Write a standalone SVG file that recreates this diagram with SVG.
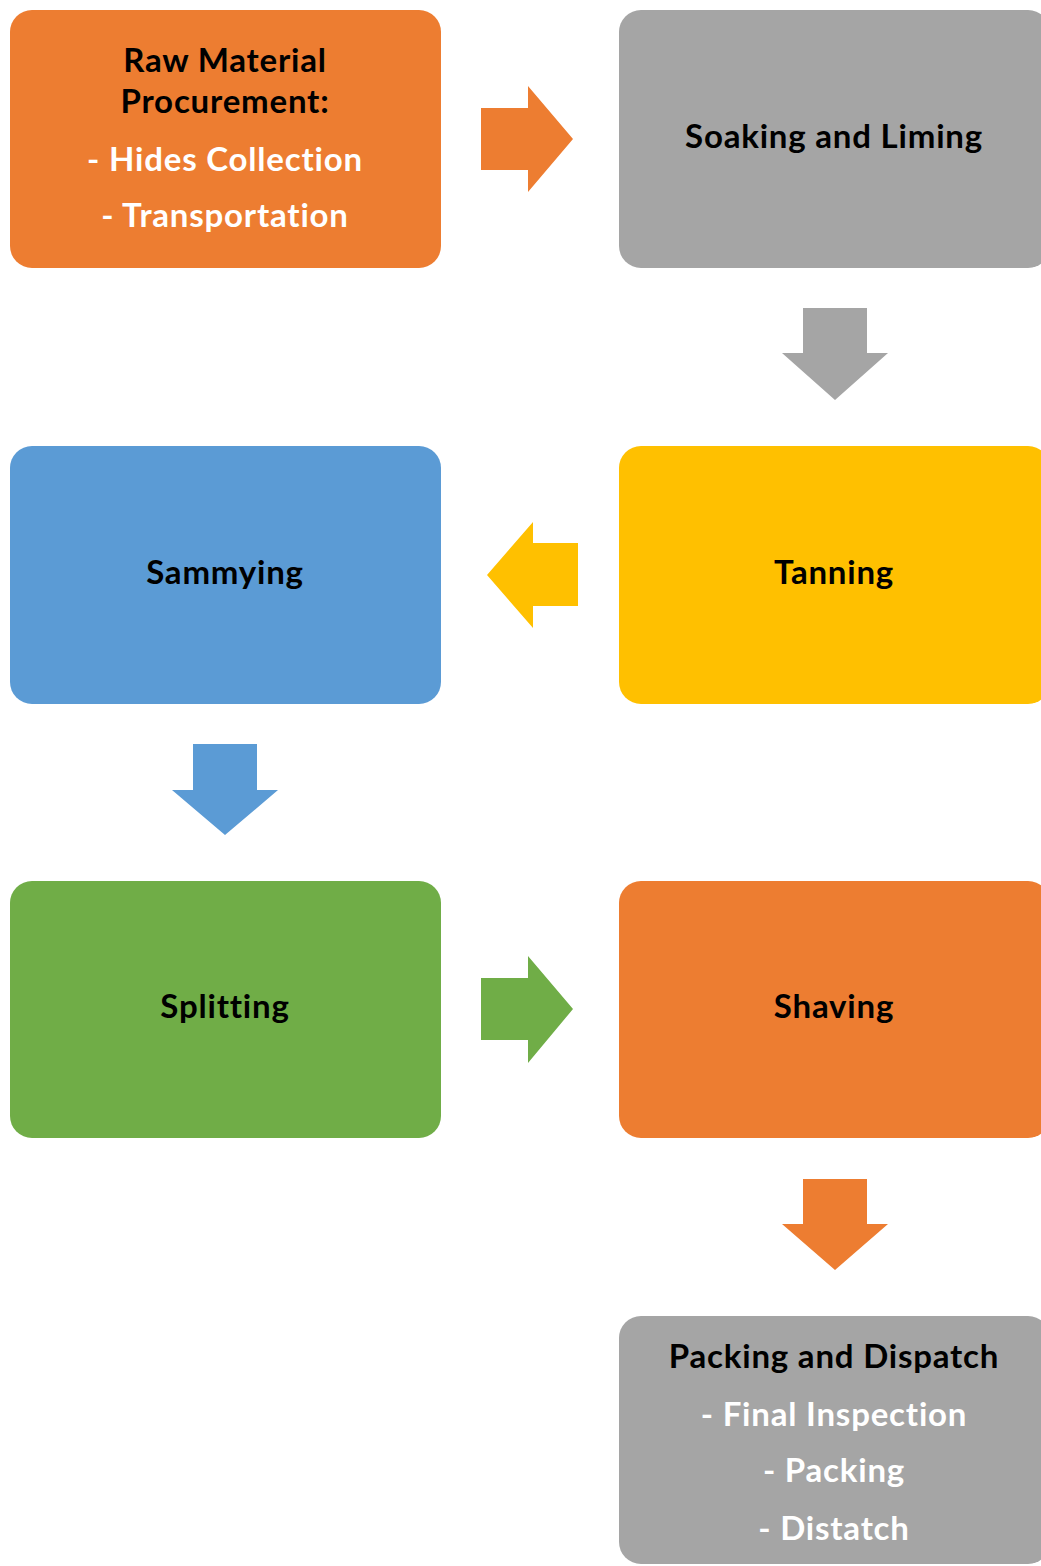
<svg xmlns="http://www.w3.org/2000/svg" width="1041" height="1566" viewBox="0 0 1041 1566">
<style>
  .t { font-family: Lato, "Open Sans", "Liberation Sans", sans-serif; font-weight: bold; font-size: 33px; letter-spacing: 0.8px; text-anchor: middle; }
  .k { fill: #000000; }
  .w { fill: #FFFFFF; }
  .orange { fill: #ED7D31; }
  .grey { fill: #A5A5A5; }
  .blue { fill: #5B9BD5; }
  .yellow { fill: #FFC000; }
  .green { fill: #70AD47; }
</style>
<rect width="1041" height="1566" fill="#FFFFFF"/>
<g id="node-raw">
  <rect class="orange" x="10" y="10" width="431" height="258" rx="22"/>
  <text class="t k" x="225" y="72">Raw Material</text>
  <text class="t k" x="225" y="113">Procurement:</text>
  <text class="t w" x="225" y="171">- Hides Collection</text>
  <text class="t w" x="225" y="227">- Transportation</text>
</g>
<g id="node-soaking">
  <rect class="grey" x="619" y="10" width="431" height="258" rx="22"/>
  <text class="t k" x="834" y="148">Soaking and Liming</text>
</g>
<g id="node-tanning">
  <rect class="yellow" x="619" y="446" width="431" height="258" rx="22"/>
  <text class="t k" x="834" y="584">Tanning</text>
</g>
<g id="node-sammying">
  <rect class="blue" x="10" y="446" width="431" height="258" rx="22"/>
  <text class="t k" x="225" y="584">Sammying</text>
</g>
<g id="node-splitting">
  <rect class="green" x="10" y="881" width="431" height="257" rx="22"/>
  <text class="t k" x="225" y="1018">Splitting</text>
</g>
<g id="node-shaving">
  <rect class="orange" x="619" y="881" width="431" height="257" rx="22"/>
  <text class="t k" x="834" y="1018">Shaving</text>
</g>
<g id="node-packing">
  <rect class="grey" x="619" y="1316" width="431" height="248" rx="22"/>
  <text class="t k" x="834" y="1368">Packing and Dispatch</text>
  <text class="t w" x="834" y="1426">- Final Inspection</text>
  <text class="t w" x="834" y="1482">- Packing</text>
  <text class="t w" x="834" y="1540">- Distatch</text>
</g>
<g id="connectors">
  <polygon class="orange" points="481,108 528,108 528,86 573,139 528,192 528,170 481,170"/>
  <polygon class="grey" points="803,308 867,308 867,353 888,353 835,400 782,353 803,353"/>
  <polygon class="yellow" points="578,543 533,543 533,522 487,575 533,628 533,606 578,606"/>
  <polygon class="blue" points="193,744 257,744 257,790 278,790 225,835 172,790 193,790"/>
  <polygon class="green" points="481,978 528,978 528,956 573,1009 528,1063 528,1040 481,1040"/>
  <polygon class="orange" points="803,1179 867,1179 867,1224 888,1224 835,1270 782,1224 803,1224"/>
</g>
</svg>
